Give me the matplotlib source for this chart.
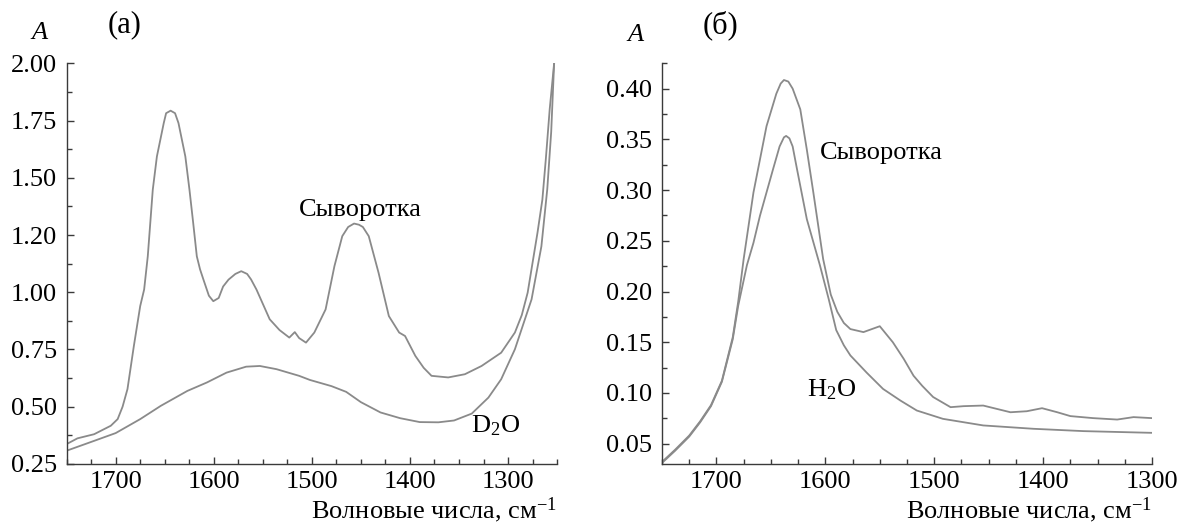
import matplotlib
matplotlib.use("Agg")
import matplotlib.pyplot as plt
from matplotlib.ticker import MultipleLocator, FixedLocator

plt.rcParams["font.family"] = ["Liberation Serif", "DejaVu Serif"]
plt.rcParams["mathtext.fontset"] = "custom"
plt.rcParams["mathtext.rm"] = "Liberation Serif"
plt.rcParams["mathtext.it"] = "Liberation Serif:italic"

# (а) serum in D2O and pure D2O
wn_serum_d2o = [1750, 1739, 1722, 1705, 1698, 1693, 1688, 1681.5, 1675, 1671, 1667.3,
                1662.2, 1658, 1651, 1648.6, 1644, 1639.5, 1636, 1629, 1624.8, 1621, 1617.3,
                1614, 1610.6, 1605, 1600.5, 1595, 1590.5, 1585, 1578, 1572, 1566, 1562,
                1556.5, 1543, 1533, 1523, 1517.4, 1513, 1506, 1497.5, 1486, 1477, 1469,
                1463, 1457, 1452, 1448, 1442, 1432, 1421.5, 1411, 1405, 1394.5, 1386, 1378,
                1361, 1344, 1327, 1307, 1293, 1286, 1280, 1270, 1265, 1261.5, 1257.5, 1253]
a_serum_d2o = [0.337, 0.362, 0.380, 0.417, 0.446, 0.50, 0.577, 0.765, 0.94, 1.012, 1.157,
               1.448, 1.593, 1.739, 1.782, 1.793, 1.782, 1.739, 1.593, 1.448, 1.303, 1.157,
               1.10, 1.056, 0.985, 0.961, 0.975, 1.025, 1.055, 1.080, 1.092, 1.080, 1.056,
               1.012, 0.882, 0.835, 0.802, 0.826, 0.800, 0.780, 0.824, 0.925, 1.114, 1.245,
               1.285, 1.300, 1.295, 1.285, 1.245, 1.085, 0.896, 0.824, 0.809, 0.722, 0.670,
               0.635, 0.628, 0.642, 0.678, 0.736, 0.824, 0.900, 0.998, 1.259, 1.404, 1.58,
               1.80, 2.00]

wn_d2o = [1750, 1722, 1700, 1675, 1654, 1627, 1607, 1587, 1567, 1553, 1536, 1513, 1502,
          1480, 1465, 1450, 1430, 1410, 1390, 1371, 1355, 1337, 1320, 1307, 1293, 1276,
          1266, 1260, 1256, 1253]
a_d2o = [0.308, 0.351, 0.385, 0.446, 0.504, 0.569, 0.606, 0.649, 0.675, 0.678, 0.664,
         0.635, 0.617, 0.590, 0.565, 0.520, 0.475, 0.450, 0.433, 0.432, 0.440, 0.470,
         0.540, 0.620, 0.751, 0.969, 1.200, 1.45, 1.70, 2.00]

# (б) serum in H2O and pure H2O
wn_serum_h2o = [1750, 1738, 1725, 1715, 1705, 1695, 1685, 1680, 1675, 1666, 1654, 1645,
                1641, 1638, 1634, 1630, 1623, 1617, 1611, 1602, 1595, 1589, 1583, 1577,
                1565, 1550, 1538, 1528, 1519, 1511, 1501, 1485, 1473, 1455, 1430, 1415,
                1401, 1387, 1375, 1354, 1332, 1317, 1300]
a_serum_h2o = [0.032, 0.044, 0.058, 0.072, 0.088, 0.112, 0.155, 0.190, 0.232, 0.2976,
               0.363, 0.395, 0.405, 0.4085, 0.407, 0.400, 0.3796, 0.340, 0.2976, 0.232,
               0.197, 0.180, 0.169, 0.163, 0.160, 0.1658, 0.150, 0.1336, 0.117, 0.107,
               0.096, 0.086, 0.087, 0.0876, 0.081, 0.082, 0.085, 0.081, 0.0772, 0.0752,
               0.0738, 0.0762, 0.0752]

wn_h2o = [1750, 1738, 1725, 1715, 1705, 1695, 1685, 1680, 1672, 1666, 1660, 1648, 1642,
          1638, 1636, 1633, 1630, 1626, 1617, 1605, 1597, 1590, 1583, 1577, 1562, 1547,
          1531, 1516, 1492, 1455, 1409, 1363, 1300]
a_h2o = [0.031, 0.043, 0.057, 0.071, 0.087, 0.111, 0.153, 0.186, 0.226, 0.248, 0.2748,
         0.3206, 0.343, 0.352, 0.3534, 0.351, 0.343, 0.3206, 0.2714, 0.226, 0.193, 0.162,
         0.147, 0.137, 0.120, 0.104, 0.0925, 0.0827, 0.0745, 0.068, 0.0647, 0.0624, 0.0607]

a_ticks = [0.25, 0.50, 0.75, 1.00, 1.25, 1.50, 1.75, 2.00]
a_tick_labels = ["0.25", "0.50", "0.75", "1.00", "1.20", "1.50", "1.75", "2.00"]
b_ticks = [0.05, 0.10, 0.15, 0.20, 0.25, 0.30, 0.35, 0.40]
wn_ticks = [1700, 1600, 1500, 1400, 1300]

line_color = "#8a8a8a"
axis_color = "#3a3a3a"
fs = 19

fig = plt.figure(figsize=(11.84, 5.26), dpi=100)
ax1 = fig.add_axes([0.0563, 0.1179, 0.4142, 0.7618])
ax2 = fig.add_axes([0.5591, 0.1179, 0.4139, 0.7618])


def style_axes(ax):
    for side in ("top", "right"):
        ax.spines[side].set_visible(False)
    for side in ("left", "bottom"):
        ax.spines[side].set_color(axis_color)
        ax.spines[side].set_linewidth(1.0)
    ax.tick_params(which="both", direction="in", color=axis_color, width=1.0,
                   labelsize=fs, labelcolor="black")
    ax.tick_params(which="major", length=5)
    ax.tick_params(which="minor", length=3.5)
    ax.tick_params(axis="x", pad=5)
    ax.tick_params(axis="y", pad=7)
    ax.xaxis.set_major_locator(FixedLocator(wn_ticks))
    ax.xaxis.set_minor_locator(MultipleLocator(25))
    ax.set_xlabel("Волновые числа, см$^{-1}$", fontsize=fs, loc="right", labelpad=2)


# panel (а)
ax1.plot(wn_serum_d2o, a_serum_d2o, color=line_color, lw=1.3)
ax1.plot(wn_d2o, a_d2o, color=line_color, lw=1.3)
ax1.set_xlim(1750, 1250)
ax1.set_ylim(0.25, 2.00)
style_axes(ax1)
ax1.set_yticks(a_ticks)
ax1.set_yticklabels(a_tick_labels)
ax1.yaxis.set_minor_locator(MultipleLocator(0.125))
ax1.text(1451, 1.335, "Сыворотка", fontsize=fs, ha="center", va="baseline")
ax1.text(1337.5, 0.388, "D$_2$O", fontsize=fs, ha="left", va="baseline")

# panel (б)
ax2.plot(wn_serum_h2o, a_serum_h2o, color=line_color, lw=1.3)
ax2.plot(wn_h2o, a_h2o, color=line_color, lw=1.3)
ax2.set_xlim(1750, 1300)
ax2.set_ylim(0.03, 0.425)
style_axes(ax2)
ax2.set_yticks(b_ticks)
ax2.set_yticklabels([f"{v:.2f}" for v in b_ticks])
ax2.yaxis.set_minor_locator(MultipleLocator(0.025))
ax2.text(1605, 0.3304, "Сыворотка", fontsize=fs, ha="left", va="baseline")
ax2.text(1617, 0.0971, "H$_2$O", fontsize=fs, ha="left", va="baseline")

# panel letters and axis symbol
fig.text(40 / 1184, 1 - 33 / 526, "A", fontsize=fs, style="italic", ha="center", va="center")
fig.text(125 / 1184, 1 - 25 / 526, "(а)", fontsize=22, ha="center", va="center")
fig.text(635 / 1184, 1 - 35 / 526, "A", fontsize=fs, style="italic", ha="center", va="center")
fig.text(721 / 1184, 1 - 25 / 526, "(б)", fontsize=22, ha="center", va="center")

fig.savefig("out.png", dpi=100)
